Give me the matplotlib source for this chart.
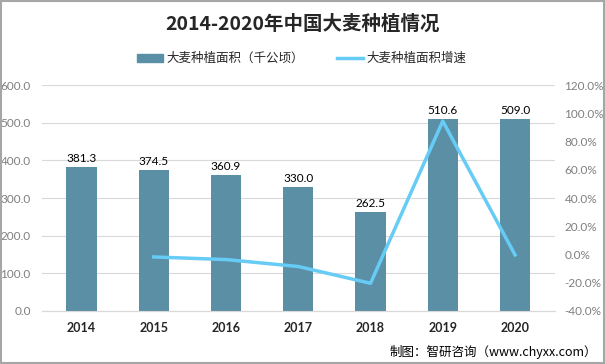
import matplotlib
matplotlib.use("Agg")
import matplotlib.pyplot as plt
from matplotlib.patches import Rectangle
from matplotlib.ticker import FuncFormatter

plt.rcParams['font.family'] = ['Noto Sans CJK SC', 'DejaVu Sans']

years = ['2014', '2015', '2016', '2017', '2018', '2019', '2020']
area = [381.3, 374.5, 360.9, 330.0, 262.5, 510.6, 509.0]
growth_years = ['2015', '2016', '2017', '2018', '2019', '2020']
growth = [-1.78, -3.63, -8.56, -20.45, 94.51, -0.31]

bar_color = '#5b8fa6'
line_color = '#66ccf5'
numfont = ['Lato', 'DejaVu Sans']

fig = plt.figure(figsize=(6.05, 3.64), dpi=100)
ax = fig.add_axes([0.069, 0.146, 0.848, 0.62])
ax2 = ax.twinx()

x = list(range(len(years)))
ax.bar(x, area, width=0.42, color=bar_color, zorder=3)
for xi, v in zip(x, area):
    ax.text(xi, v + 8, f'{v:.1f}', ha='center', va='bottom', fontsize=8.5, color='#000000',
            family=numfont)

gx = [years.index(y) for y in growth_years]
ax2.plot(gx, growth, color=line_color, linewidth=2.5, zorder=4)

ax.set_xlim(-0.55, len(years) - 0.45)
ax.set_ylim(0, 600)
ax.set_yticks(range(0, 601, 100))
ax.yaxis.set_major_formatter(FuncFormatter(lambda v, p: f'{v:.1f}'))
ax2.set_ylim(-40, 120)
ax2.set_yticks(range(-40, 121, 20))
ax2.yaxis.set_major_formatter(FuncFormatter(lambda v, p: f'{v:.1f}%'))

ax.set_xticks(x)
ax.set_xticklabels(years, fontsize=9, fontweight='bold', color='#262626', family=numfont)
ax.grid(axis='y', color='#d9d9d9', linewidth=0.8, zorder=0)
ax.set_axisbelow(True)
for a in (ax, ax2):
    for s in ['top', 'left', 'right']:
        a.spines[s].set_visible(False)
    a.spines['bottom'].set_color('#d9d9d9')
    a.tick_params(axis='y', length=0, labelsize=8.5, labelcolor='#7f7f7f')
    a.tick_params(axis='x', length=0, pad=8)
ax.tick_params(axis='y', pad=8)
ax2.tick_params(axis='y', pad=7)
for t in ax.get_yticklabels() + ax2.get_yticklabels():
    t.set_family(numfont)

fig.text(0.5, 0.934, '2014-2020年中国大麦种植情况', ha='center', va='center',
         fontsize=14, fontweight='bold', color='#262626')

# legend
fig.patches.append(Rectangle((0.226, 0.829), 0.043, 0.022, transform=fig.transFigure,
                             color=bar_color))
fig.text(0.276, 0.840, '大麦种植面积（千公顷）', ha='left', va='center', fontsize=9, color='#262626')
ln = plt.Line2D([0.557, 0.600], [0.840, 0.840], transform=fig.transFigure,
                color=line_color, linewidth=2.5)
fig.lines.append(ln)
ln.set_figure(fig)
fig.text(0.605, 0.840, '大麦种植面积增速', ha='left', va='center', fontsize=9, color='#262626')

fig.text(0.987, 0.033, '制图：智研咨询（www.chyxx.com）', ha='right', va='center',
         fontsize=9, color='#000000')

fig.patches.append(Rectangle((0.001, 0.002), 0.997, 0.995, transform=fig.transFigure,
                             fill=False, edgecolor='#a6a6a6', linewidth=1.5))

fig.savefig('out.png', dpi=100)
